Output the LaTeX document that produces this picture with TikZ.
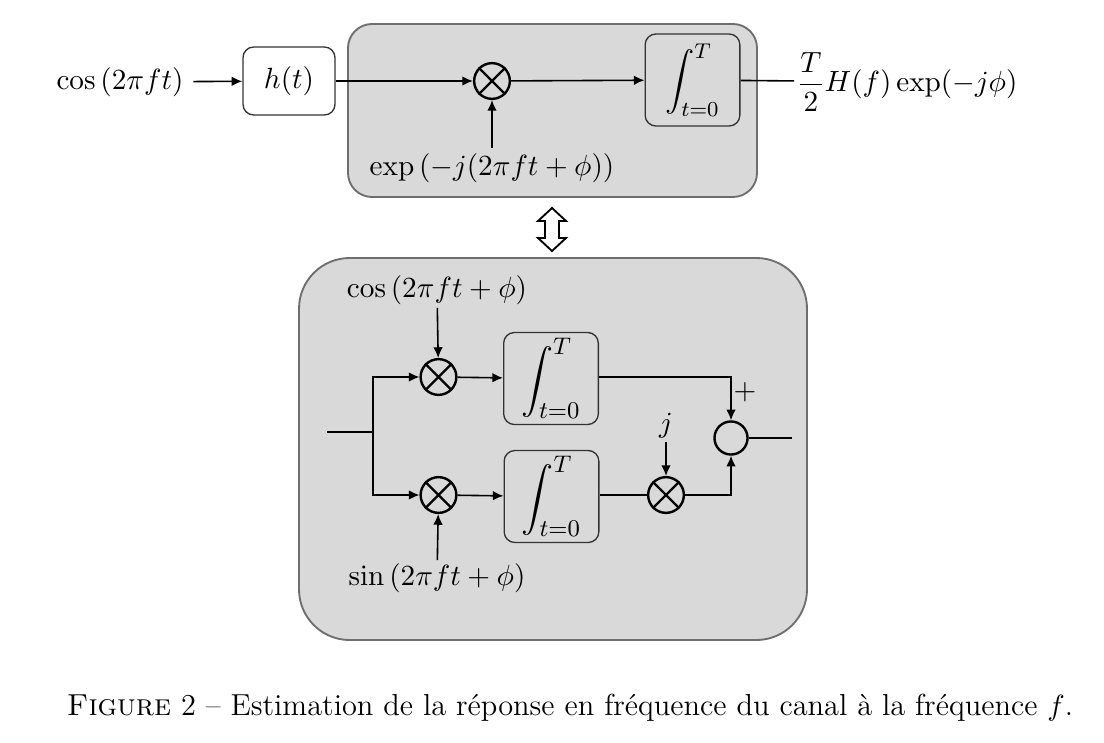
\documentclass[tikz,border=0pt]{standalone}
\usepackage{amsmath}
\usetikzlibrary{arrows.meta}
\definecolor{boxgray}{HTML}{D9D9D9}
\definecolor{edgegray}{HTML}{6E6E6E}
\begin{document}
\begin{tikzpicture}[x=0.375pt,y=-0.375pt,
  every node/.style={font=\fontsize{11.4pt}{13.7pt}\selectfont},
  arr/.style={-{Latex[length=4pt,width=3.6pt]},line width=0.6pt},
  ln/.style={line width=0.6pt},
  blk/.style={draw=black!80,rounded corners=4pt,line width=0.5pt,inner sep=0pt},
  intblk/.style={blk,minimum width=35.5pt,minimum height=34.5pt},
  bigint/.style={font=\fontsize{12.9pt}{15pt}\selectfont},
  mult/.style={draw,circle,line width=0.9pt,minimum size=13.4pt,inner sep=0pt},
  txt/.style={inner sep=1pt},
  container/.style={draw=edgegray,fill=boxgray,line width=0.7pt}]
\useasboundingbox (0,0) rectangle (1104,742);
% containers
\draw[container,rounded corners=9pt] (348,24) rectangle (757,197);
\draw[container,rounded corners=19pt] (299,258) rectangle (807,640);
% top chain
\node[txt] (in) at (120,82) {$\cos\left(2\pi ft\right)$};
\node[blk,fill=white,minimum width=34.5pt,minimum height=25.5pt] (h) at (289,81) {$h(t)$};
\node[mult] (m1) at (492,81) {};
\draw[line width=0.9pt] (m1.north west) -- (m1.south east) (m1.north east) -- (m1.south west);
\node[intblk] (i1) at (692.5,80) {$\displaystyle\int_{t=0}^{T}$};
\node[txt] (e1) at (492,168) {$\exp\left(-j(2\pi ft+\phi)\right)$};
\node[txt,anchor=west] (o1) at (794,82) {$\dfrac{T}{2}H(f)\exp(-j\phi)$};
\draw[arr,shorten <=2.5pt] (in) -- (h);
\draw[arr] (h) -- (m1);
\draw[arr] (m1) -- (i1);
\draw[arr,shorten <=1pt] (e1) -- (m1);
\draw[ln] (i1) -- (o1);
% double arrow
\draw[line width=0.7pt,fill=white] (552,208) -- (566,221) -- (559,221) -- (559,238) -- (566,238) -- (552,251)
  -- (538,238) -- (545,238) -- (545,221) -- (538,221) -- cycle;
% bottom
\node[mult] (m2) at (438.5,377) {};
\draw[line width=0.9pt] (m2.north west) -- (m2.south east) (m2.north east) -- (m2.south west);
\node[mult] (m3) at (438.5,495) {};
\draw[line width=0.9pt] (m3.north west) -- (m3.south east) (m3.north east) -- (m3.south west);
\node[intblk,bigint] (i2) at (551,378.5) {$\displaystyle\int_{t=0}^{T}$};
\node[intblk,bigint] (i3) at (551.5,496.5) {$\displaystyle\int_{t=0}^{T}$};
\node[mult] (mj) at (666,495) {};
\draw[line width=0.9pt] (mj.north west) -- (mj.south east) (mj.north east) -- (mj.south west);
\node[draw,circle,line width=0.9pt,minimum size=12.4pt,inner sep=0pt] (sum) at (731,438) {};
\node[txt] (c2) at (437,290) {$\cos\left(2\pi ft+\phi\right)$};
\node[txt] (s3) at (437,578) {$\sin\left(2\pi ft+\phi\right)$};
\node[txt] (jt) at (666,426) {$j$};
\node[txt] (plus) at (745,392) {$+$};
\coordinate (bin) at (327,432);
\coordinate (split) at (373,432);
\coordinate (bout) at (792,432);
\draw[ln] (bin) -- (split);
\draw[arr] (split) |- (m2);
\draw[arr] (split) |- (m3);
\draw[arr] (m2) -- (i2);
\draw[arr] (m3) -- (i3);
\draw[arr] (c2) -- (m2);
\draw[arr] (s3) -- (m3);
\draw[arr] (i2.east |- m2) -| (sum);
\draw[ln] (i3.east |- mj) -- (mj);
\draw[arr] (jt) -- (mj);
\draw[arr] (mj) -| (sum);
\draw[ln] (sum.east) -- (sum.east -| bout);
% caption
\node[txt] (cap) at (570,708) {\textsc{Figure} 2 -- Estimation de la réponse en fréquence du canal à la fréquence $f$.};
\end{tikzpicture}
\end{document}
